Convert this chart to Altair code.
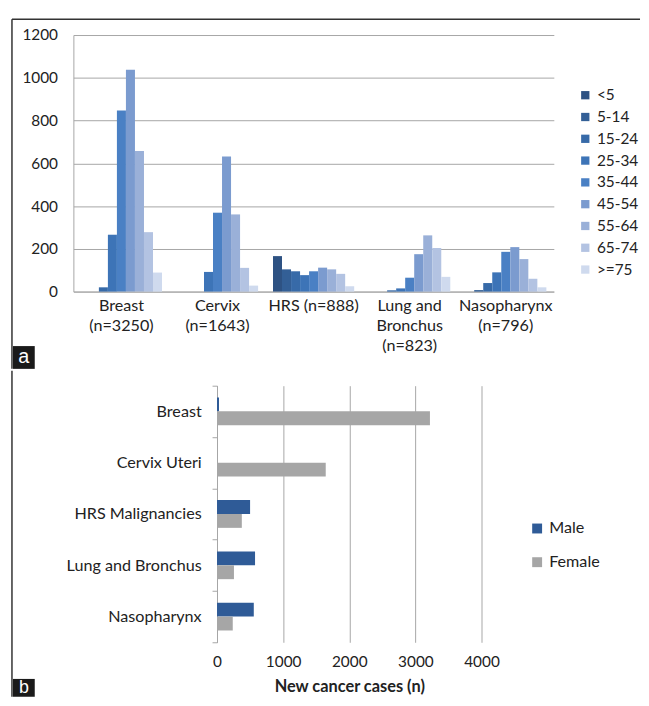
import altair as alt
import pandas as pd

# ---------- Panel a data ----------
age_groups = ["<5", "5-14", "15-24", "25-34", "35-44", "45-54", "55-64", "65-74", ">=75"]
age_colors = ["#2e5283", "#335f96", "#376aa8", "#3d74b7", "#4a80c4",
              "#7b9bcf", "#9ab0d8", "#b3c3e2", "#cfdaee"]
sites_a = ["Breast|(n=3250)", "Cervix|(n=1643)", "HRS (n=888)",
           "Lung and|Bronchus|(n=823)", "Nasopharynx|(n=796)"]
breast = [0, 0, 20, 266, 847, 1038, 658, 278, 89]
cervix = [0, 0, 0, 92, 369, 632, 361, 111, 28]
hrs = [166, 104, 95, 77, 95, 112, 104, 83, 25]
lung = [0, 0, 6, 15, 65, 175, 263, 204, 69]
naso = [0, 7, 40, 90, 186, 208, 152, 60, 20]

rows_a = []
for site, vals in zip(sites_a, [breast, cervix, hrs, lung, naso]):
    for age, v in zip(age_groups, vals):
        rows_a.append({"site": site, "age": age, "cases": v})
df_a = pd.DataFrame(rows_a)

# ---------- Panel b data ----------
sites_b = ["Breast", "Cervix Uteri", "HRS Malignancies", "Lung and Bronchus", "Nasopharynx"]
sexes = ["Male", "Female"]
sex_colors = ["#2f5b97", "#a6a6a6"]
male = [30, 0, 500, 575, 556]
female = [3220, 1644, 375, 256, 238]

rows_b = []
for s, m, f in zip(sites_b, male, female):
    rows_b.append({"site": s, "sex": "Male", "cases": m})
    rows_b.append({"site": s, "sex": "Female", "cases": f})
df_b = pd.DataFrame(rows_b)

one = pd.DataFrame({"k": [0]})
FONT = "Lato"
FS = 15.5
FS_CAT = 16.3
GRID = "#a6a6a6"
TXT = "#222222"
FRAME = "#333333"

# ---------- Panel a ----------
bars_a = alt.Chart(df_a).mark_bar().encode(
    x=alt.X("site:N", sort=sites_a,
            scale=alt.Scale(paddingInner=0.155, paddingOuter=0.0775),
            axis=alt.Axis(title=None, labelExpr="split(datum.label, '|')", labelAngle=0,
                          ticks=False, domainColor=GRID, labelPadding=6, labelLineHeight=20,
                          labelFontSize=FS_CAT, labelColor=TXT, labelFont=FONT)),
    xOffset=alt.XOffset("age:N", sort=age_groups,
                        scale=alt.Scale(paddingInner=0, paddingOuter=0)),
    y=alt.Y("cases:Q", scale=alt.Scale(domain=[0, 1200]),
            axis=alt.Axis(title=None, values=list(range(0, 1201, 200)), format="d",
                          ticks=False, grid=True, gridColor=GRID, domainColor=GRID,
                          labelFlush=False,
                          labelPadding=16, labelFontSize=FS, labelColor=TXT, labelFont=FONT)),
    color=alt.Color("age:N", sort=age_groups,
                    scale=alt.Scale(domain=age_groups, range=age_colors),
                    legend=alt.Legend(title=None, orient="none", legendX=509, legendY=53,
                                      symbolType="square", symbolSize=70, symbolStrokeWidth=0,
                                      labelFontSize=FS, labelColor=TXT, labelFont=FONT,
                                      rowPadding=5)),
)

top_line = alt.Chart(one).mark_rule(color=FRAME, strokeWidth=1.5).encode(
    x=alt.value(-62), x2=alt.value(572), y=alt.value(-16))
left_line_a = alt.Chart(one).mark_rule(color=FRAME, strokeWidth=1.5).encode(
    x=alt.value(-62), y=alt.value(-16), y2=alt.value(337))
box_a = alt.Chart(one).mark_rect(color="#1a1a1a").encode(
    x=alt.value(-61), x2=alt.value(-39), y=alt.value(314), y2=alt.value(337))
txt_a = alt.Chart(one).mark_text(color="white", fontSize=20, font="Liberation Sans",
                                 align="center", baseline="middle").encode(
    x=alt.value(-50), y=alt.value(325), text=alt.value("a"))

panel_a = alt.layer(bars_a, top_line, left_line_a, box_a, txt_a).properties(
    width=485, height=259)

# ---------- Panel b ----------
bars_b = alt.Chart(df_b).mark_bar().encode(
    y=alt.Y("site:N", sort=sites_b, scale=alt.Scale(paddingInner=0, paddingOuter=0),
            axis=alt.Axis(title=None, tickBand="extent", tickColor=GRID, tickSize=5,
                          domainColor=GRID, labelFontSize=FS_CAT, labelPadding=11,
                          labelColor=TXT, labelFont=FONT)),
    yOffset=alt.YOffset("sex:N", sort=sexes,
                        scale=alt.Scale(paddingInner=0, paddingOuter=0.85)),
    x=alt.X("cases:Q", scale=alt.Scale(domain=[0, 4000]),
            axis=alt.Axis(values=[0, 1000, 2000, 3000, 4000], format="d",
                          title="New cancer cases (n)",
                          titleFontSize=16.5, titleFontWeight="bold", titleColor=TXT,
                          titleFont=FONT, titlePadding=9,
                          grid=True, gridColor=GRID, domain=False, ticks=False,
                          labelFlush=False,
                          labelPadding=12, labelFontSize=FS, labelColor=TXT, labelFont=FONT)),
    color=alt.Color("sex:N", sort=sexes, scale=alt.Scale(domain=sexes, range=sex_colors),
                    legend=alt.Legend(title=None, orient="none", legendX=460, legendY=136,
                                      symbolType="square", symbolSize=100, symbolStrokeWidth=0,
                                      labelFontSize=FS_CAT, labelColor=TXT, labelFont=FONT,
                                      rowPadding=17)),
)
panel_b = bars_b.properties(width=267, height=259)

# spacer holding the left frame line and the "b" tag of the lower panel
left_line_b = alt.Chart(one).mark_rule(color=FRAME, strokeWidth=1.5).encode(
    x=alt.value(-62), y=alt.value(-15), y2=alt.value(314))
box_b = alt.Chart(one).mark_rect(color="#1a1a1a").encode(
    x=alt.value(-61), x2=alt.value(-39), y=alt.value(296), y2=alt.value(314))
txt_b = alt.Chart(one).mark_text(color="white", fontSize=18, font="Liberation Sans",
                                 align="center", baseline="middle").encode(
    x=alt.value(-50), y=alt.value(305), text=alt.value("b"))
spacer = alt.layer(left_line_b, box_b, txt_b).properties(width=1, height=259)

row_b = alt.hconcat(spacer, panel_b, spacing=-9)

chart = alt.vconcat(panel_a, row_b, spacing=0).resolve_scale(
    color="independent").properties(
    padding={"left": 3, "top": 7, "right": 0, "bottom": 0}
).configure_view(stroke=None)

chart.save("out.html", embed_options={"renderer": "svg", "actions": False})
